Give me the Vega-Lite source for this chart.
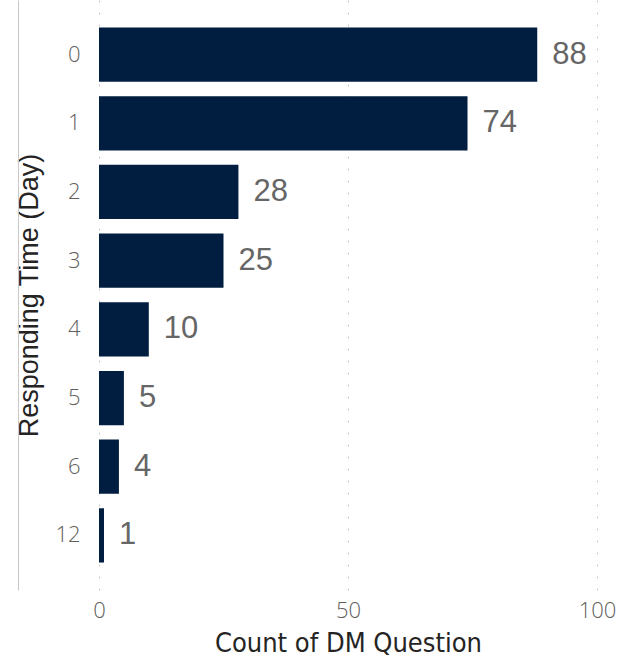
{
  "$schema": "https://vega.github.io/schema/vega-lite/v6.json",
  "width": 498,
  "height": 590,
  "autosize": {"type": "none"},
  "padding": {"left": 99, "top": 0, "right": 26, "bottom": 75},
  "background": "white",
  "data": {"values": [
    {"day": "0", "count": 88},
    {"day": "1", "count": 74},
    {"day": "2", "count": 28},
    {"day": "3", "count": 25},
    {"day": "4", "count": 10},
    {"day": "5", "count": 5},
    {"day": "6", "count": 4},
    {"day": "12", "count": 1}
  ]},
  "config": {"view": {"stroke": null}},
  "resolve": {"axis": {"y": "independent"}},
  "encoding": {
    "x": {
      "field": "count", "type": "quantitative",
      "scale": {"domain": [0, 100], "nice": false},
      "axis": {
        "values": [0, 50, 100],
        "title": "Count of DM Question",
        "titleFont": "DejaVu Sans Condensed",
        "titleFontSize": 27,
        "titleFontWeight": "normal",
        "titleColor": "#252423",
        "titlePadding": 9,
        "labelFont": "Open Sans",
        "labelFontWeight": 300,
        "labelFontSize": 22,
        "labelColor": "#605E5C",
        "labelPadding": 10,
        "labelFlush": false,
        "ticks": false,
        "domain": false,
        "grid": true,
        "gridColor": "#C8C8C8",
        "gridDash": [2, 10],
        "gridWidth": 1
      }
    }
  },
  "layer": [
    {
      "mark": {"type": "bar", "color": "#011E41"},
      "encoding": {
        "y": {
          "field": "day", "type": "nominal", "sort": null,
          "scale": {"paddingInner": 0.21, "paddingOuter": 0.4},
          "axis": {
            "title": "Responding Time (Day)",
            "titleFont": "Liberation Sans",
            "titleFontSize": 27,
            "titleFontWeight": "normal",
            "titleColor": "#252423",
            "titlePadding": 11,
            "labelFont": "Open Sans",
            "labelFontWeight": 300,
            "labelFontSize": 22,
            "labelColor": "#605E5C",
            "labelPadding": 19,
            "ticks": false,
            "domain": false,
            "grid": false
          }
        }
      }
    },
    {
      "mark": {"type": "text", "align": "left", "baseline": "middle", "dx": 15, "font": "Liberation Sans", "fontSize": 31, "color": "#666666"},
      "encoding": {
        "y": {
          "field": "day", "type": "nominal", "sort": null,
          "scale": {"paddingInner": 0.21, "paddingOuter": 0.4},
          "axis": {
            "orient": "left",
            "offset": 81,
            "title": null,
            "labels": false,
            "ticks": false,
            "grid": false,
            "domain": true,
            "domainColor": "#C8C8C8",
            "domainWidth": 1
          }
        },
        "text": {"field": "count", "type": "quantitative"}
      }
    }
  ]
}
